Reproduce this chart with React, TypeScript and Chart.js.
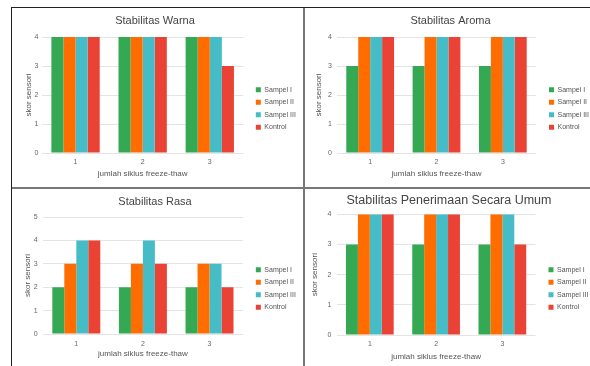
import React, { useEffect, useRef } from "react";
import { Chart, registerables } from "chart.js";

Chart.register(...registerables);

const categories = ["1", "2", "3"];
const seriesNames = ["Sampel I", "Sampel II", "Sampel III", "Kontrol"];
const seriesColors = ["#34a853", "#ff6d01", "#46bdc6", "#ea4335"];
const yTitleText = "skor sensori";
const xTitleText = "jumlah siklus freeze-thaw";

const warnaSampelI = [4, 4, 4];
const warnaSampelII = [4, 4, 4];
const warnaSampelIII = [4, 4, 4];
const warnaKontrol = [4, 4, 3];

const aromaSampelI = [3, 3, 3];
const aromaSampelII = [4, 4, 4];
const aromaSampelIII = [4, 4, 4];
const aromaKontrol = [4, 4, 4];

const rasaSampelI = [2, 2, 2];
const rasaSampelII = [3, 3, 3];
const rasaSampelIII = [4, 4, 3];
const rasaKontrol = [4, 3, 2];

const umumSampelI = [3, 3, 3];
const umumSampelII = [4, 4, 4];
const umumSampelIII = [4, 4, 4];
const umumKontrol = [4, 4, 3];

const FONT = "'Liberation Sans', Arial, sans-serif";

type Panel = {
  title: string;
  series: number[][];
  yMax: number;
  x: number; y: number; w: number; h: number;
  padL: number; padR: number;
  titleSize: number; titlePadTop: number; titlePadBottom: number;
  yWidth: number; yTitlePad: number; yTickPad: number;
  xHeight: number; xTickPad: number; xTitlePadB: number;
  gap: number;
  legendShift: number;
};

const panels: Panel[] = [
  {
    title: "Stabilitas Warna",
    series: [warnaSampelI, warnaSampelII, warnaSampelIII, warnaKontrol],
    yMax: 4,
    x: 12, y: 8, w: 291, h: 179,
    padL: 0, padR: 5,
    titleSize: 11, titlePadTop: 6.4, titlePadBottom: 9.4,
    yWidth: 30, yTitlePad: 12.2, yTickPad: 3.5,
    xHeight: 34, xTickPad: 4.8, xTitlePadB: 8.4,
    gap: 7,
    legendShift: 22,
  },
  {
    title: "Stabilitas Aroma",
    series: [aromaSampelI, aromaSampelII, aromaSampelIII, aromaKontrol],
    yMax: 4,
    x: 305, y: 8, w: 285, h: 179,
    padL: 6, padR: 0,
    titleSize: 11, titlePadTop: 6.4, titlePadBottom: 9.4,
    yWidth: 26, yTitlePad: 2.5, yTickPad: 5,
    xHeight: 34, xTickPad: 4.8, xTitlePadB: 8.4,
    gap: 7.5,
    legendShift: 22,
  },
  {
    title: "Stabilitas Rasa",
    series: [rasaSampelI, rasaSampelII, rasaSampelIII, rasaKontrol],
    yMax: 5,
    x: 12, y: 189, w: 291, h: 177,
    padL: 0, padR: 5,
    titleSize: 11, titlePadTop: 6.4, titlePadBottom: 8.4,
    yWidth: 31, yTitlePad: 11.2, yTickPad: 5.3,
    xHeight: 32, xTickPad: 5.8, xTitlePadB: 7.2,
    gap: 7.5,
    legendShift: 22,
  },
  {
    title: "Stabilitas Penerimaan Secara Umum",
    series: [umumSampelI, umumSampelII, umumSampelIII, umumKontrol],
    yMax: 4,
    x: 305, y: 189, w: 285, h: 177,
    padL: 3, padR: 0,
    titleSize: 12.5, titlePadTop: 4, titlePadBottom: 6.3,
    yWidth: 28.7, yTitlePad: 2.2, yTickPad: 5.4,
    xHeight: 31, xTickPad: 4.8, xTitlePadB: 4.5,
    gap: 7.5,
    legendShift: 22,
  },
];

function ChartPanel({ p }: { p: Panel }) {
  const ref = useRef<HTMLCanvasElement | null>(null);
  useEffect(() => {
    if (!ref.current) return;
    const chart = new Chart(ref.current, {
      type: "bar",
      data: {
        labels: categories,
        datasets: p.series.map((d, i) => ({
          label: seriesNames[i],
          data: d,
          backgroundColor: seriesColors[i],
          borderWidth: 0,
          categoryPercentage: 0.72,
          barPercentage: 1,
        })),
      },
      options: {
        responsive: false,
        animation: false,
        devicePixelRatio: 1,
        layout: { padding: { left: p.padL, right: p.padR, top: 0, bottom: 0 } },
        plugins: {
          title: {
            display: true,
            text: p.title,
            color: "#444444",
            font: { family: FONT, size: p.titleSize, weight: "normal" },
            padding: { top: p.titlePadTop, bottom: p.titlePadBottom },
          },
          legend: {
            position: "right",
            align: "center",
            title: {
              display: true,
              text: " ",
              font: { family: FONT, size: 2 },
              padding: { top: p.legendShift - 2.4, bottom: 0 },
            },
            labels: {
              boxWidth: 5,
              boxHeight: 5,
              padding: 5.5,
              color: "#555555",
              font: { family: FONT, size: 7 },
            },
          },
          tooltip: { enabled: false },
        },
        scales: {
          x: {
            grid: { display: false, drawTicks: false },
            border: { display: false },
            ticks: { color: "#666666", font: { family: FONT, size: 7 }, padding: p.xTickPad },
            title: {
              display: true,
              text: xTitleText,
              color: "#555555",
              font: { family: FONT, size: 8 },
              padding: { top: 0, bottom: p.xTitlePadB },
            },
            afterFit: (s: any) => {
              s.height = p.xHeight;
            },
          },
          y: {
            min: 0,
            max: p.yMax,
            ticks: { stepSize: 1, color: "#666666", font: { family: FONT, size: 7 }, padding: p.yTickPad },
            grid: { color: "#e4e4e4", drawTicks: false },
            border: { display: false },
            title: {
              display: true,
              text: yTitleText,
              color: "#555555",
              font: { family: FONT, size: 8 },
              padding: { top: p.yTitlePad, bottom: 0 },
            },
            afterFit: (s: any) => {
              s.width = p.yWidth;
            },
          },
          gap: {
            type: "linear",
            position: "right",
            display: true,
            grid: { display: false, drawTicks: false },
            border: { display: false },
            ticks: { display: false },
            afterFit: (s: any) => {
              s.width = p.gap;
            },
          },
        },
      } as any,
    });
    return () => chart.destroy();
  }, [p]);
  return (
    <canvas
      ref={ref}
      width={p.w}
      height={p.h}
      style={{ position: "absolute", left: p.x, top: p.y, width: p.w, height: p.h }}
    />
  );
}

export default function App() {
  return (
    <div
      style={{
        position: "fixed",
        left: 0,
        top: 0,
        width: 590,
        height: 366,
        background: "#ffffff",
        overflow: "hidden",
      }}
    >
      <div style={{ position: "absolute", left: 11, top: 7, width: 579, height: 1, background: "#222" }} />
      <div style={{ position: "absolute", left: 11, top: 7, width: 1, height: 359, background: "#222" }} />
      <div style={{ position: "absolute", left: 303, top: 8, width: 2, height: 358, background: "#777" }} />
      <div style={{ position: "absolute", left: 12, top: 187, width: 578, height: 2, background: "#777" }} />
      {panels.map((p, i) => (
        <ChartPanel key={i} p={p} />
      ))}
    </div>
  );
}
